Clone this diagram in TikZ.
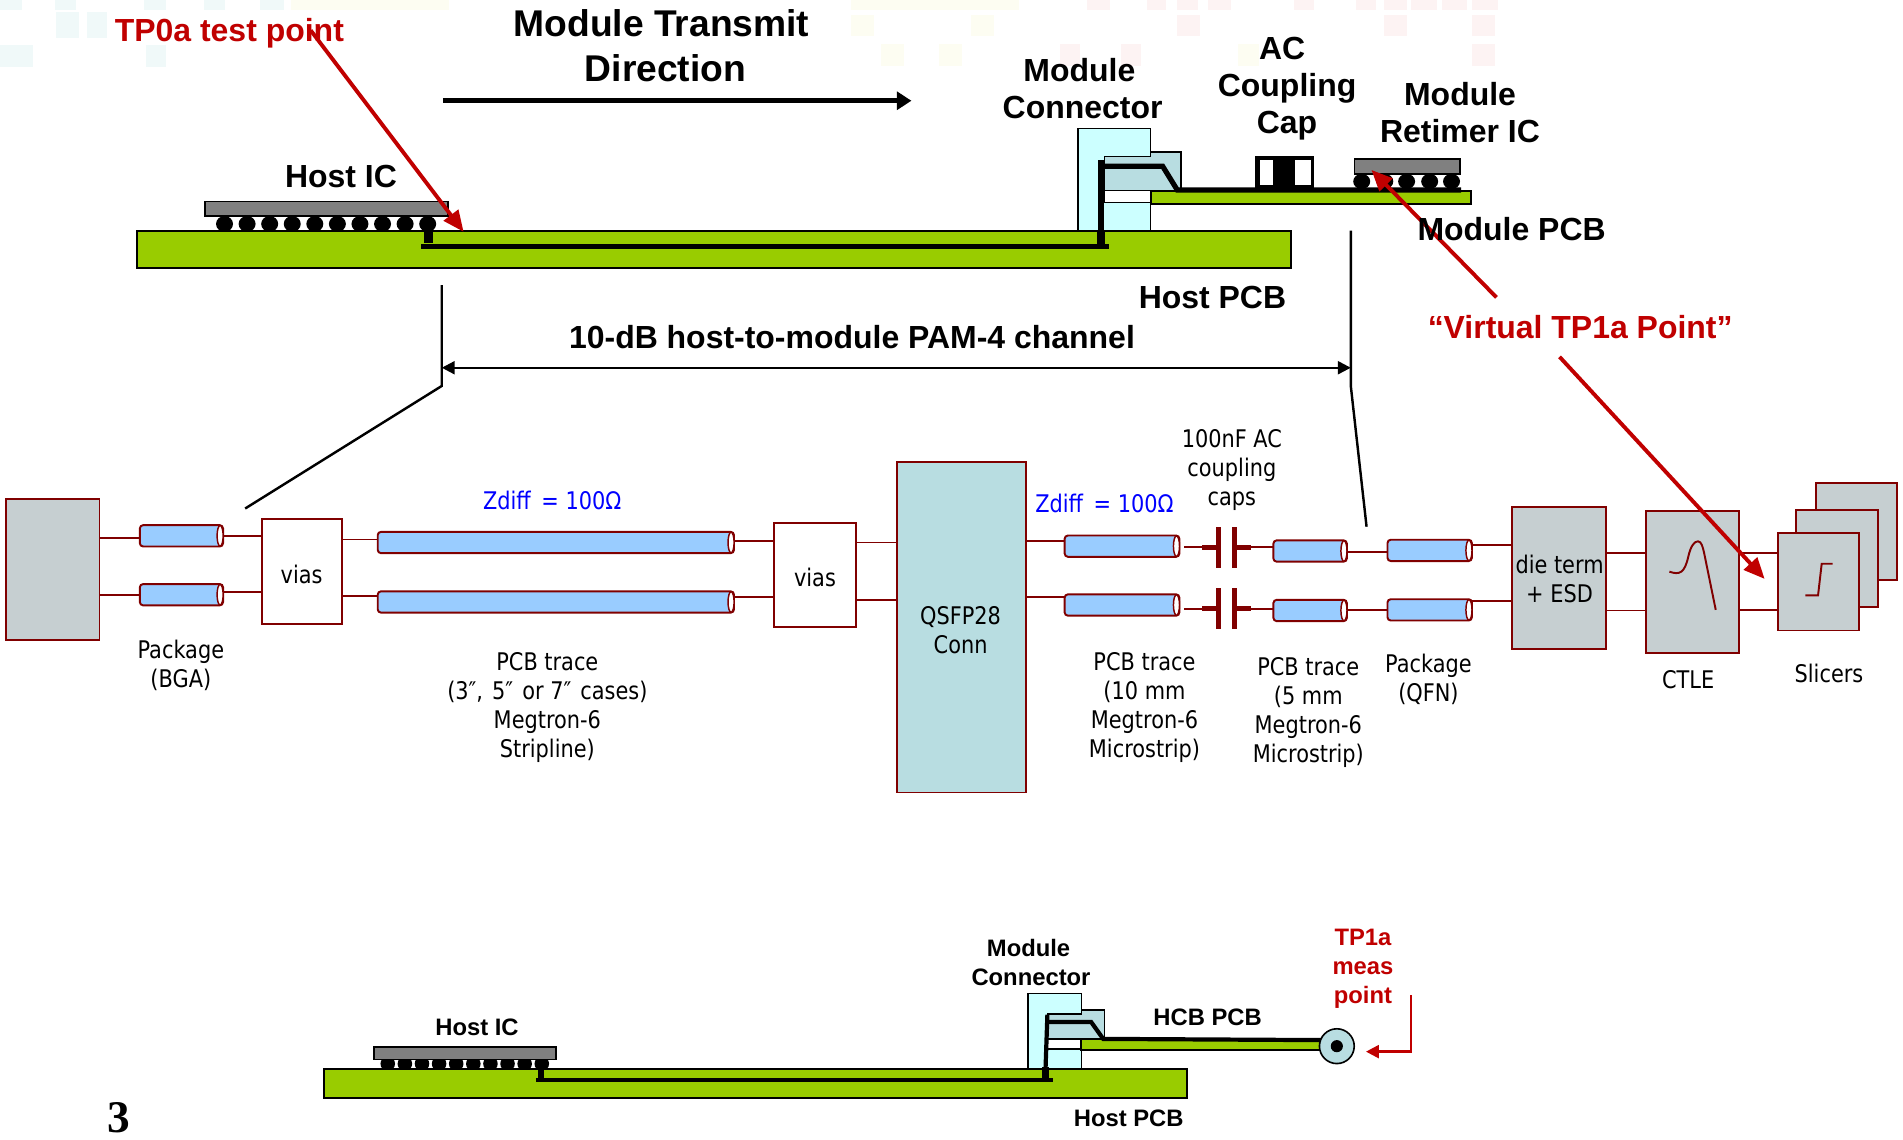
\documentclass[tikz,border=0pt]{standalone}
\usepackage{fontspec}
\setmainfont{Liberation Sans}
\newfontfamily\thinfont[FakeStretch=0.86]{DejaVu Sans}
\newfontfamily\pagefont{Liberation Serif}
\usetikzlibrary{arrows.meta}

\definecolor{pcbgreen}{RGB}{153,204,0}
\definecolor{chipgray}{RGB}{128,128,128}
\definecolor{conncyan}{RGB}{204,255,255}
\definecolor{connteal}{RGB}{184,221,225}
\definecolor{blockgray}{RGB}{198,207,209}
\definecolor{linemaroon}{RGB}{128,0,0}
\definecolor{pipeblue}{RGB}{153,204,255}
\definecolor{notered}{RGB}{192,0,0}
\definecolor{tileteal}{RGB}{240,249,249}
\definecolor{tileyellow}{RGB}{253,253,242}
\definecolor{tilepink}{RGB}{253,243,243}

\tikzset{
	bigtext/.style={inner sep=0pt,align=center,font=\bfseries\fontsize{19.75}{23}\selectfont},
	smalltext/.style={inner sep=0pt,align=center,font=\bfseries\fontsize{14.7}{18}\selectfont},
	thintext/.style={inner sep=0pt,align=center,font=\thinfont\fontsize{15}{18}\selectfont},
	redarrow/.style={draw=notered,line width=2.4pt,-{Triangle[length=13pt,width=11pt]}},
	pcb/.style={fill=pcbgreen,draw=black,line width=1.2pt},
	chipbody/.style={fill=chipgray,draw=black,line width=1pt},
	block/.style 2 args={rectangle,draw=linemaroon,line width=1.2pt,inner sep=0pt,minimum width=#1*0.75pt,minimum height=#2*0.75pt},
	pipe/.style={rectangle,inner sep=0pt,minimum width=#1*0.75pt,minimum height=17*0.75pt},
	wire/.style={draw=linemaroon,line width=1.2pt},
	capplate/.style={draw=linemaroon,line width=3.2pt}
}

\begin{document}
\begin{tikzpicture}[x=0.75pt,y=0.75pt,yscale=-1,xscale=1]
	\useasboundingbox (0,0) rectangle (1568,938.5);
	
	%faint tiles behind the top of the slide
	\foreach \tx/\ty/\tw/\th in {46/10/19/21,72/10/16/21,0/37/27/18,120/37/17/18,119/0/18/8,168/0/17/8,214/0/20/8,0/0/18/8,45/0/18/8}
		\fill [tileteal] (\tx,\ty) rectangle ++(\tw,\th);
	\foreach \tx/\ty/\tw/\th in {240/0/130/8,701/0/139/8,701/12/19/18,800/12/19/18,726/36/19/18,774/36/19/18,1020/36/17/18}
		\fill [tileyellow] (\tx,\ty) rectangle ++(\tw,\th);
	\foreach \tx/\ty/\tw/\th in {896/0/19/8,945/0/16/8,970/0/17/8,995/0/19/8,1066/0/17/8,1117/0/17/8,1140/0/19/8,1163/0/21/8,1188/0/21/8,1213/0/21/8,970/12/19/18,1140/12/19/18,1213/12/19/18,873/36/17/18,924/36/16/18,1213/36/19/18}
		\fill [tilepink] (\tx,\ty) rectangle ++(\tw,\th);
	
	%Top board: host IC balls
	\foreach \bx in {0,...,9}
		\fill (185+\bx*18.6,184.5) ellipse (7 and 6.5);
	%Top board: host PCB and IC
	\draw [pcb] (113,190) rectangle (1064,221);
	\draw [chipbody] (169,166) rectangle (369,178);
	%Top board: connector
	\draw [fill=conncyan,line width=1pt] (888,106) rectangle (948,190);
	\draw [fill=connteal,line width=1pt] (910,129) -- (948,129) -- (948,125) -- (973,125) -- (973,157) -- (910,157) -- cycle;
	\draw [fill=white,line width=1pt] (910,157) rectangle (948,167);
	\draw [pcb] (948,157) rectangle (1212,168);
	%Top board: traces
	\draw [line width=5.2pt] (353,185) -- (353,200);
	\draw [line width=3.4pt] (347,203) -- (914,203);
	\draw [line width=5.2pt] (907,190) -- (907,203);
	\draw [line width=3.6pt] (907,132) -- (907,192);
	\draw [line width=3.2pt] (907,137) -- (958,137) -- (970,156.5) -- (1204,156.5);
	%Top board: coupling cap
	\draw [fill=black,line width=1pt] (1035,129) rectangle (1082,155);
	\fill [white] (1038,131.5) rectangle (1049,152.5);
	\fill [white] (1067,131.5) rectangle (1080,152.5);
	%Top board: retimer IC
	\foreach \bx in {1122,1141,1159,1178,1196}
		\fill (\bx,149.5) ellipse (7 and 6.3);
	\draw [chipbody] (1116,131) rectangle (1203,143.5);
	
	%Direction and channel arrows
	\draw [line width=3.2pt,-{Triangle[length=9pt,width=11pt]}] (365,83) -- (751,83);
	\draw [line width=1.5pt] (364,235) -- (364,318) -- (202,419);
	\draw [line width=1.5pt] (1113,190) -- (1113,318) -- (1126,434);
	\draw [line width=1.5pt,{Triangle[length=8pt,width=8pt]}-{Triangle[length=8pt,width=8pt]}] (364,303) -- (1113,303);
	
	%Channel blocks
	\node [block={77}{116},fill=blockgray] (hostchip) at (43.5,469) {};
	\node [block={66}{86}] (viasa) at (248.5,471) {};
	\node [block={67}{86}] (viasb) at (671.5,474) {};
	\node [block={106}{272},fill=connteal] (qsfp) at (792,517) {};
	\node [block={77}{117},fill=blockgray] (dieterm) at (1284.5,476) {};
	\node [block={77}{117},fill=blockgray] (ctle) at (1394.5,479.5) {};
	\node [block={67}{80},fill=blockgray] (slicerc) at (1529.5,438) {};
	\node [block={67}{80},fill=blockgray] (slicerb) at (1513.5,460) {};
	\node [block={67}{80},fill=blockgray] (slicera) at (1498.5,479.5) {};
	
	%Channel traces
	\foreach \pname/\px/\py/\plen in {pkga/149.5/441.5/68,pkgb/149.5/490/68,longa/458/447/293,longb/458/496/293,shorta/924.5/450/94,shortb/924.5/498.5/94,tracea/1079.5/454/60,traceb/1079.5/503/60,qfna/1178/453.5/69,qfnb/1178/502.5/69} {
		\node [pipe=\plen] (\pname) at (\px,\py) {};
		\draw [wire,fill=pipeblue,rounded corners=2pt] (\pname.south west) rectangle (\pname.north east);
		\draw [wire,line width=0.9pt,fill=white] ([xshift=-1.8pt]\pname.east) ellipse (2.5 and 8.5);
	}
	\foreach \wa/\wb/\wy in {hostchip/pkga/443,hostchip/pkgb/490,pkga/viasa/441.5,pkgb/viasa/488,viasa/longa/444.5,viasa/longb/491,longa/viasb/445.5,longb/viasb/492,viasb/qsfp/447,viasb/qsfp/494,qsfp/shorta/445.5,qsfp/shortb/492,tracea/qfna/455,traceb/qfnb/502.5,qfna/dieterm/449,qfnb/dieterm/495.5,dieterm/ctle/456,dieterm/ctle/503,ctle/slicera/455.5,ctle/slicera/502.5}
		\draw [wire] (\wa.east |- 0,\wy) -- (\wb.west |- 0,\wy);
	
	%Coupling caps
	\foreach \cy/\cname in {451/capa,501.5/capb} {
		\coordinate (\cname l) at (1004,\cy);
		\coordinate (\cname r) at (1017,\cy);
		\draw [capplate] ([yshift=-12.5pt]\cname l) -- ([yshift=12.5pt]\cname l);
		\draw [capplate] ([yshift=-12.5pt]\cname r) -- ([yshift=12.5pt]\cname r);
		\draw [capplate] (\cname l) -- ++(-14,0);
		\draw [capplate] (\cname r) -- ++(14,0);
	}
	\draw [wire] ([xshift=3pt]shorta.east |- capal) -- (capal);
	\draw [wire] ([xshift=3pt]shortb.east |- capbl) -- (capbl);
	\draw [wire] (capar) -- (tracea.west |- capar);
	\draw [wire] (capbr) -- (traceb.west |- capbr);
	
	%CTLE and slicer curves
	\draw [wire] (1375.5,471) .. controls (1384,474) and (1388,472) .. (1391,459) .. controls (1393,450) and (1396,446) .. (1399,446) .. controls (1402,446) and (1403,451) .. (1404,455) -- (1413.7,502.5);
	\draw [wire] (1487.5,490.5) -- (1498,490.5) -- (1501,464.5) -- (1510,464.5);
	
	%Bottom board: host IC balls
	\foreach \bx in {0,...,9}
		\fill (319.5+\bx*14.1,876.5) ellipse (6 and 6);
	%Bottom board: host PCB and IC
	\draw [pcb] (267,881) rectangle (978,905);
	\draw [chipbody] (308,862.5) rectangle (458,873);
	%Bottom board: connector
	\draw [fill=conncyan,line width=1pt] (847,818.5) rectangle (891,881);
	\draw [fill=connteal,line width=1pt] (863,835.5) -- (891,835.5) -- (891,832) -- (910,832) -- (910,856) -- (863,856) -- cycle;
	\draw [fill=white,line width=1pt] (863,856) rectangle (891,864.5);
	\draw [pcb] (891,856.5) rectangle (1090,865);
	%Bottom board: traces
	\draw [line width=3.8pt] (446,873) -- (446,889);
	\draw [line width=2.6pt] (442,890) -- (868,890);
	\draw [line width=3.8pt] (861.5,879) -- (861.5,890);
	\draw [line width=2.6pt] (863,836) -- (861.5,880);
	\draw [line width=2.6pt] (862,842) -- (899,842) -- (909,856) -- (1090,857);
	%Bottom board: measurement connector
	\node [circle,draw=black,line width=1pt,fill=connteal,minimum size=21.5pt,inner sep=0pt] (coax) at (1101.5,862) {};
	\node [circle,fill=black,minimum size=7.5pt,inner sep=0pt] (coaxpin) at (coax) {};
	\coordinate (meastop) at (1162.5,820);
	\draw [draw=notered,line width=1.6pt,-{Triangle[length=8pt,width=8pt]}] (meastop) |- (1125.5,866.5);
	
	%Note arrows
	\draw [redarrow] (256,25) -- (382,191);
	\draw [redarrow] (1233,245) -- (1130,140);
	\draw [redarrow] (1285,294) -- (1454,477);
	
	% Text Node
	\node [inner sep=0pt,align=center,font=\bfseries\fontsize{23}{27.75}\selectfont] (titlelabel) at (545,37.5) {Module Transmit\\\hspace*{5pt}Direction};
	% Text Node
	\node [bigtext,text=notered] (tpzerolabel) at (189,27) {TP0a test point};
	% Text Node
	\node [bigtext] (hostic) at (281,145.5) {Host IC};
	% Text Node
	\node [bigtext] (modconn) at (892,73) {Module\hspace*{4pt}\\Connector};
	% Text Node
	\node [bigtext] (acccap) at (1060.5,73) {AC\hspace*{6pt}\\Coupling\\Cap};
	% Text Node
	\node [bigtext] (retimer) at (1203,92.5) {Module\\Retimer IC};
	% Text Node
	\node [bigtext] (modpcb) at (1245.5,189) {Module PCB};
	% Text Node
	\node [bigtext] (hostpcb) at (999,245) {Host PCB};
	% Text Node
	\node [bigtext] (channel) at (702,278) {10-dB host-to-module PAM-4 channel};
	% Text Node
	\node [bigtext,text=notered] (virtlabel) at (1302,269.5) {“Virtual TP1a Point”};
	% Text Node
	\node [thintext,text=blue] (zdiffa) at (455,412) {Zdiff\, = 100Ω};
	% Text Node
	\node [thintext,text=blue] (zdiffb) at (910,415) {Zdiff\, = 100Ω};
	% Text Node
	\node [thintext] (acnote) at (1015,387) {100nF AC\\coupling\\caps};
	% Text Node
	\node [thintext] (viasalabel) at (248.5,473) {vias};
	% Text Node
	\node [thintext] (viasblabel) at (671.5,476) {vias};
	% Text Node
	\node [thintext] (qsfplabel) at (791.5,519) {QSFP28\\Conn};
	% Text Node
	\node [thintext] (dielabel) at (1285,477) {die term\\+ ESD};
	% Text Node
	\node [thintext] (bgalabel) at (149,548.5) {Package\\(BGA)};
	% Text Node
	\node [thintext] (striplabel) at (451,583) {PCB trace\\(3″,\kern1.5pt\ 5″\kern1.5pt\ or 7″\kern1.5pt\ cases)\\Megtron-6\\Stripline)};
	% Text Node
	\node [thintext] (tenlabel) at (943,583) {PCB trace\\(10 mm\\Megtron-6\\Microstrip)};
	% Text Node
	\node [thintext] (fivelabel) at (1078,587) {PCB trace\\(5 mm\\Megtron-6\\Microstrip)};
	% Text Node
	\node [thintext] (qfnlabel) at (1177,560) {Package\\(QFN)};
	% Text Node
	\node [thintext] (ctlelabel) at (1391,560) {CTLE};
	% Text Node
	\node [thintext] (slicerlabel) at (1507,555) {Slicers};
	% Text Node
	\node [smalltext] (hosticb) at (393,846.5) {Host IC};
	% Text Node
	\node [smalltext] (modconnb) at (849.5,793) {Module\hspace*{3pt}\\Connector};
	% Text Node
	\node [smalltext] (hcblabel) at (995,838) {HCB PCB};
	% Text Node
	\node [smalltext] (hostpcbb) at (930,921.5) {Host PCB};
	% Text Node
	\node [smalltext,text=notered] (tponelabel) at (1123,798) {TP1a\\meas\\point};
	% Text Node
	\node [inner sep=0pt,font=\pagefont\bfseries\fontsize{28}{28}\selectfont] (pagenum) at (98,921) {3};
	
\end{tikzpicture}
\end{document}
